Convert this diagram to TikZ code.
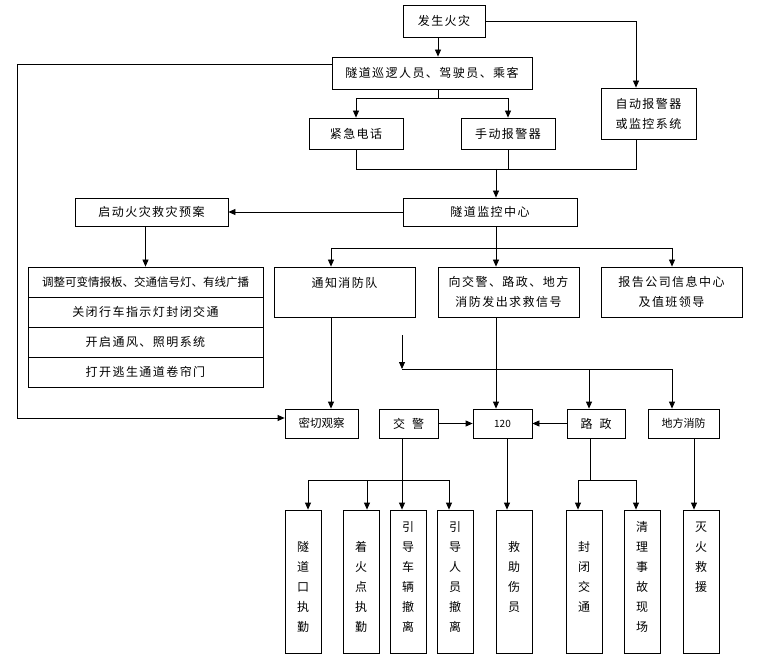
\documentclass[tikz,border=0pt]{standalone}
\usepackage{fontspec}
\newfontfamily\cjk[LetterSpace=12]{Noto Sans CJK SC}
\newfontfamily\cjkn{Noto Sans CJK SC}
\usetikzlibrary{arrows.meta}
\begin{document}
\begin{tikzpicture}[x=1pt,y=-1pt,
  box/.style={draw, line width=0.8pt, inner sep=0pt, align=center, font=\cjk\fontsize{12}{20}\selectfont},
  mbox/.style={box, font=\cjkn\fontsize{11.5}{20}\selectfont},
  nbox/.style={box, font=\cjkn\fontsize{11}{20}\selectfont},
  vbox/.style={draw, line width=0.8pt, inner sep=0pt, minimum width=36pt, minimum height=143pt},
  vt/.style={inner sep=0pt, align=center, font=\cjkn\fontsize{12}{20}\selectfont},
  arr/.style={line width=0.8pt, -{Triangle[length=7pt,width=6pt]}},
  ln/.style={line width=0.8pt}]
\useasboundingbox (0,0) rectangle (760,660);

% top boxes
\node[box, minimum width=82pt, minimum height=32pt] (fire) at (444,21) {发生火灾};
\node[box, minimum width=200pt, minimum height=32pt] (patrol) at (432,73) {隧道巡逻人员、驾驶员、乘客};
\node[box, minimum width=94pt, minimum height=31pt] (phone) at (356,133.5) {紧急电话};
\node[box, minimum width=94pt, minimum height=31pt] (manual) at (508,133.5) {手动报警器};
\node[box, minimum width=95pt, minimum height=51pt] (auto) at (648.5,113.5) {自动报警器\\或监控系统};
\node[box, minimum width=174pt, minimum height=28pt] (center) at (490,212) {隧道监控中心};
\node[box, minimum width=153pt, minimum height=28pt] (plan) at (151.5,212) {启动火灾救灾预案};

% second level
\node[box, minimum width=141pt, minimum height=50pt] (notify) at (344.5,292) {通知消防队\\\mbox{}};
\node[box, minimum width=141pt, minimum height=50pt] (signal) at (508.5,292) {向交警、路政、地方\\消防发出求救信号};
\node[box, minimum width=141pt, minimum height=50pt] (report) at (671.5,292) {报告公司信息中心\\及值班领导};

% list
\node[mbox, minimum width=235pt, minimum height=30pt] (l1) at (145.5,282) {调整可变情报板、交通信号灯、有线广播};
\node[box, minimum width=235pt, minimum height=30pt] (l2) at (145.5,312) {关闭行车指示灯封闭交通};
\node[box, minimum width=235pt, minimum height=30pt] (l3) at (145.5,342) {开启通风、照明系统};
\node[box, minimum width=235pt, minimum height=30pt] (l4) at (145.5,372) {打开逃生通道卷帘门};

% row of small boxes
\node[mbox, minimum width=73pt, minimum height=29pt] (observe) at (321.5,423.5) {密切观察};
\node[box, minimum width=59pt, minimum height=29pt] (police) at (408.5,423.5) {交\hspace{7pt}警};
\node[nbox, minimum width=59pt, minimum height=29pt, font=\cjkn\fontsize{10}{12}\selectfont] (e120) at (502.5,423.5) {120};
\node[box, minimum width=58pt, minimum height=29pt] (road) at (596,423.5) {路\hspace{7pt}政};
\node[nbox, minimum width=71pt, minimum height=29pt] (local) at (683.5,423.5) {地方消防};

% bottom vertical boxes
\node[vbox] (b1) at (303,581.5) {};
\node[vbox] (b2) at (361,581.5) {};
\node[vbox] (b3) at (408,581.5) {};
\node[vbox] (b4) at (455,581.5) {};
\node[vbox] (b5) at (514,581.5) {};
\node[vbox] (b6) at (584,581.5) {};
\node[vbox] (b7) at (642,581.5) {};
\node[vbox] (b8) at (701,581.5) {};
\node[vt] (t1) at (303,587) {隧\\道\\口\\执\\勤};
\node[vt] (t2) at (361,587) {着\\火\\点\\执\\勤};
\node[vt] (t3) at (408,577) {引\\导\\车\\辆\\撤\\离};
\node[vt] (t4) at (455,577) {引\\导\\人\\员\\撤\\离};
\node[vt] (t5) at (514,577) {救\\助\\伤\\员};
\node[vt] (t6) at (584,577) {封\\闭\\交\\通};
\node[vt] (t7) at (642,577) {清\\理\\事\\故\\现\\场};
\node[vt] (t8) at (701,557) {灭\\火\\救\\援};

% helper coordinates
\coordinate (s1) at (438,0);
\coordinate (a1) at (636,0);
\coordinate (j1) at (438,98);
\coordinate (j2) at (496,169);
\coordinate (L) at (17,64);
\coordinate (L2) at (17,418);
\coordinate (j3) at (496,248);
\coordinate (n1) at (331,248);
\coordinate (n3) at (672,248);
\coordinate (f1) at (402,335);
\coordinate (f2) at (402,369);
\coordinate (h2) at (589,369);
\coordinate (h3) at (672,369);
\coordinate (p1) at (402,480);
\coordinate (q1) at (308,480);
\coordinate (q2) at (367,480);
\coordinate (q4) at (449,480);
\coordinate (r5) at (507,0);
\coordinate (rd) at (590,480);
\coordinate (r6) at (578,480);
\coordinate (r7) at (636,480);
\coordinate (r8) at (694,0);

% top connectors
\draw[arr] (fire.south -| s1) -- (patrol.north -| s1);
\draw[arr] (fire.east) -| (a1 |- auto.north);
\draw[ln] (patrol.south -| j1) -- (j1);
\draw[arr] (j1) -| (phone.north);
\draw[arr] (j1) -| (manual.north);
\draw[ln] (phone.south) |- (j2 -| a1) -- (a1 |- auto.south);
\draw[ln] (manual.south) -- (manual.south |- j2);
\draw[arr] (j2) -- (j2 |- center.north);
\draw[arr] (center.west) -- (plan.east);
\draw[arr] (patrol.west |- L) -- (L) -- (L2) -- (observe.west |- L2);
\draw[arr] (plan.south -| l1.north) -- (l1.north);

% monitoring center branches
\draw[ln] (center.south -| j3) -- (j3);
\draw[ln] (n1) -- (n3);
\draw[arr] (n1) -- (n1 |- notify.north);
\draw[arr] (j3) -- (j3 |- signal.north);
\draw[arr] (n3) -- (n3 |- report.north);
\draw[arr] (n1 |- notify.south) -- (n1 |- observe.north);
\draw[arr] (j3 |- signal.south) -- (j3 |- e120.north);

% free arrow and distribution line
\draw[arr] (f1) -- (f2);
\draw[ln] (f2) -- (h3);
\draw[arr] (h2) -- (h2 |- road.north);
\draw[arr] (h3) -- (h3 |- local.north);
\draw[arr] (police.east) -- (e120.west);
\draw[arr] (road.west) -- (e120.east);

% bottom connectors
\draw[arr] (police.south -| p1) -- (p1 |- b3.north);
\draw[ln] (q1) -- (q4);
\draw[arr] (q1) -- (q1 |- b1.north);
\draw[arr] (q2) -- (q2 |- b2.north);
\draw[arr] (q4) -- (q4 |- b4.north);
\draw[arr] (e120.south -| r5) -- (r5 |- b5.north);
\draw[ln] (road.south -| rd) -- (rd);
\draw[ln] (r6) -- (r7);
\draw[arr] (r6) -- (r6 |- b6.north);
\draw[arr] (r7) -- (r7 |- b7.north);
\draw[arr] (local.south -| r8) -- (r8 |- b8.north);
\end{tikzpicture}
\end{document}
